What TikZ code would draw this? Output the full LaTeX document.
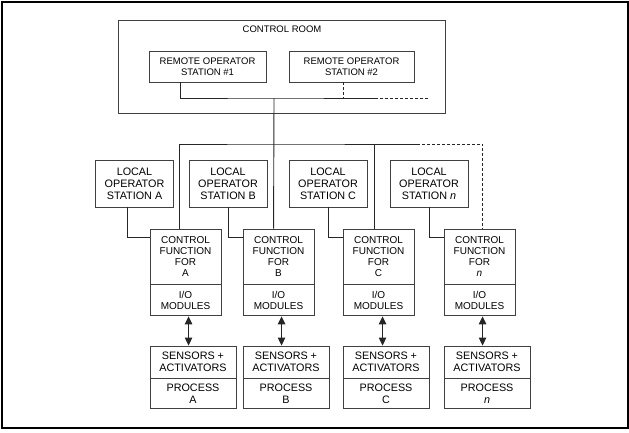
\documentclass[tikz,border=0pt]{standalone}
\usepackage{fontspec}
\setmainfont{Liberation Sans}
\usetikzlibrary{arrows.meta}

\tikzset{
  box/.style={draw=black!75, line width=0.9pt, rectangle, inner sep=0pt, align=center,
              font=\fontsize{10}{11}\selectfont},
  bigbox/.style={box, font=\fontsize{10.8}{12}\selectfont},
  smallbox/.style={box, font=\fontsize{9.5}{11}\selectfont},
  conn/.style={draw=black!85, line width=0.9pt},
  dashconn/.style={conn, dash pattern=on 3pt off 2pt},
  biarrow/.style={conn, {Triangle[width=7.5pt,length=8pt]}-{Triangle[width=7.5pt,length=8pt]}}
}

\begin{document}
\begin{tikzpicture}[x=1pt,y=-1pt]
                    \useasboundingbox (0,0) rectangle (629,432);
                    \draw[black, line width=1.5pt] (2,2) rectangle (628,428);
                    % control room
                    \node[box, minimum width=327, minimum height=93] (croom) at (281.5,66.5) {};
                    \node[smallbox, draw=none] (croomlbl) at (282,29) {CONTROL ROOM};
                    \node[smallbox, minimum width=117, minimum height=31] (ro1) at (207.5,66.5) {REMOTE OPERATOR\\STATION \#1};
                    \node[smallbox, minimum width=125, minimum height=31] (ro2) at (351.5,66.5) {REMOTE OPERATOR\\STATION \#2};
                    \coordinate (jr) at (274,98);
                    \draw[conn] ([xshift=32pt]ro1.south west) |- (jr) -- (375,98) coordinate (js);
                    \draw[dashconn] (js) -- (428,98);
                    \draw[dashconn] ([xshift=55pt]ro2.south west) -- ([xshift=55pt]ro2.south west |- jr);
                    % local operator stations
                    \node[bigbox, minimum width=78, minimum height=47] (losA) at (134.5,183.5) {LOCAL\\OPERATOR\\STATION A};
                    \node[bigbox, minimum width=78, minimum height=47] (losB) at (228,183.5) {LOCAL\\OPERATOR\\STATION B};
                    \node[bigbox, minimum width=78, minimum height=47] (losC) at (328,183.5) {LOCAL\\OPERATOR\\STATION C};
                    \node[bigbox, minimum width=78, minimum height=47] (losn) at (429,183.5) {LOCAL\\OPERATOR\\STATION \textit{n}};
                    % control functions and i/o
                    \node[box, minimum width=71, minimum height=55] (cfA) at (185.5,256.5) {CONTROL\\FUNCTION\\FOR\\A};
                    \node[box, minimum width=71, minimum height=55] (cfB) at (278.5,256.5) {CONTROL\\FUNCTION\\FOR\\B};
                    \node[box, minimum width=71, minimum height=55] (cfC) at (378.5,256.5) {CONTROL\\FUNCTION\\FOR\\C};
                    \node[box, minimum width=71, minimum height=55] (cfn) at (479.5,256.5) {CONTROL\\FUNCTION\\FOR\\\textit{n}};
                    \node[box, minimum width=71, minimum height=31, anchor=north] (ioA) at (cfA.south) {I/O\\MODULES};
                    \node[box, minimum width=71, minimum height=31, anchor=north] (ioB) at (cfB.south) {I/O\\MODULES};
                    \node[box, minimum width=71, minimum height=31, anchor=north] (ioC) at (cfC.south) {I/O\\MODULES};
                    \node[box, minimum width=71, minimum height=31, anchor=north] (ion) at (cfn.south) {I/O\\MODULES};
                    % sensors and processes
                    \node[bigbox, minimum width=86, minimum height=32] (snA) at (193,362) {SENSORS +\\ACTIVATORS};
                    \node[bigbox, minimum width=86, minimum height=32] (snB) at (286,362) {SENSORS +\\ACTIVATORS};
                    \node[bigbox, minimum width=86, minimum height=32] (snC) at (386,362) {SENSORS +\\ACTIVATORS};
                    \node[bigbox, minimum width=86, minimum height=32] (snn) at (487,362) {SENSORS +\\ACTIVATORS};
                    \node[bigbox, minimum width=86, minimum height=30, anchor=north] (prA) at (snA.south) {PROCESS\\A};
                    \node[bigbox, minimum width=86, minimum height=30, anchor=north] (prB) at (snB.south) {PROCESS\\B};
                    \node[bigbox, minimum width=86, minimum height=30, anchor=north] (prC) at (snC.south) {PROCESS\\C};
                    \node[bigbox, minimum width=86, minimum height=30, anchor=north] (prn) at (snn.south) {PROCESS\\\textit{n}};
                    % network bus
                    \coordinate (bus) at (274,144);
                    \draw[conn] (jr) -- ([xshift=31pt]cfB.north west);
                    \draw[conn] ([xshift=30pt]cfA.north west) |- (bus) -- (417,144) coordinate (busend);
                    \draw[conn] ([xshift=32pt]cfC.north west) -- ([xshift=32pt]cfC.north west |- bus);
                    \draw[dashconn] (busend) -| ([xshift=39pt]cfn.north west);
                    % local stations to control functions
                    \draw[conn] ([xshift=-7.5pt]losA.south) |- ([yshift=-9pt]cfA.north west);
                    \draw[conn] (losB.south) |- ([yshift=-9pt]cfB.north west);
                    \draw[conn] (losC.south) |- ([yshift=-9pt]cfC.north west);
                    \draw[conn] (losn.south) |- ([yshift=-9pt]cfn.north west);
                    % i/o to field
                    \draw[biarrow] ([xshift=39pt]ioA.south west) -- ([xshift=39pt]ioA.south west |- snA.north);
                    \draw[biarrow] ([xshift=39pt]ioB.south west) -- ([xshift=39pt]ioB.south west |- snB.north);
                    \draw[biarrow] ([xshift=40pt]ioC.south west) -- ([xshift=40pt]ioC.south west |- snC.north);
                    \draw[biarrow] ([xshift=39pt]ion.south west) -- ([xshift=39pt]ion.south west |- snn.north);
                \end{tikzpicture}
\end{document}
